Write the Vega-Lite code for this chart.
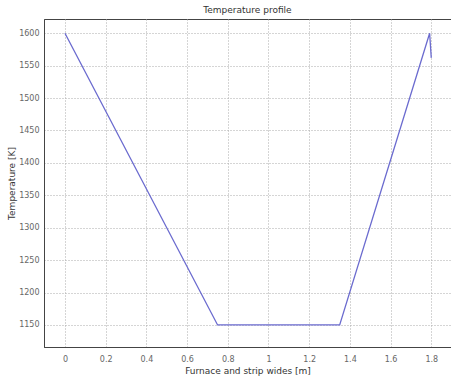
{
  "$schema": "https://vega.github.io/schema/vega-lite/v6.json",
  "width": 407,
  "height": 328,
  "autosize": {"type": "none"},
  "padding": {"left": 44, "top": 19, "right": 0, "bottom": 29},
  "background": "white",
  "title": {"text": "Temperature profile", "fontSize": 9, "font": "DejaVu Sans", "fontWeight": "normal", "color": "#333", "offset": 4},
  "data": {"values": [
    {"x": 0, "t": 1600},
    {"x": 0.75, "t": 1150},
    {"x": 1.35, "t": 1150},
    {"x": 1.792, "t": 1600},
    {"x": 1.80, "t": 1562}
  ]},
  "mark": {"type": "line", "color": "#6b6bcf", "strokeWidth": 1.3, "clip": true},
  "encoding": {
    "x": {"field": "x", "type": "quantitative", "scale": {"domain": [-0.103, 1.897], "nice": false, "zero": false},
      "axis": {"values": [0, 0.2, 0.4, 0.6, 0.8, 1, 1.2, 1.4, 1.6, 1.8], "title": "Furnace and strip wides [m]", "titleFontWeight": "normal", "titleFontSize": 9, "titleFont": "DejaVu Sans", "titleColor": "#333", "titlePadding": 3,
        "labelFontSize": 8, "labelFont": "DejaVu Sans", "labelColor": "#666", "labelPadding": 8, "ticks": false, "domainColor": "#444",
        "gridDash": [1, 2], "gridColor": "#aaa", "format": "~g"}},
    "y": {"field": "t", "type": "quantitative", "scale": {"domain": [1116, 1622], "nice": false, "zero": false},
      "axis": {"values": [1150, 1200, 1250, 1300, 1350, 1400, 1450, 1500, 1550, 1600], "format": "d", "title": "Temperature [K]", "titleFontWeight": "normal", "titleFontSize": 9, "titleFont": "DejaVu Sans", "titleColor": "#333", "titlePadding": 2,
        "labelFontSize": 8, "labelFont": "DejaVu Sans", "labelColor": "#666", "labelPadding": 5, "ticks": false, "domainColor": "#444",
        "gridDash": [1, 2], "gridColor": "#aaa"}}
  },
  "config": {"view": {"stroke": "#444"}}
}
